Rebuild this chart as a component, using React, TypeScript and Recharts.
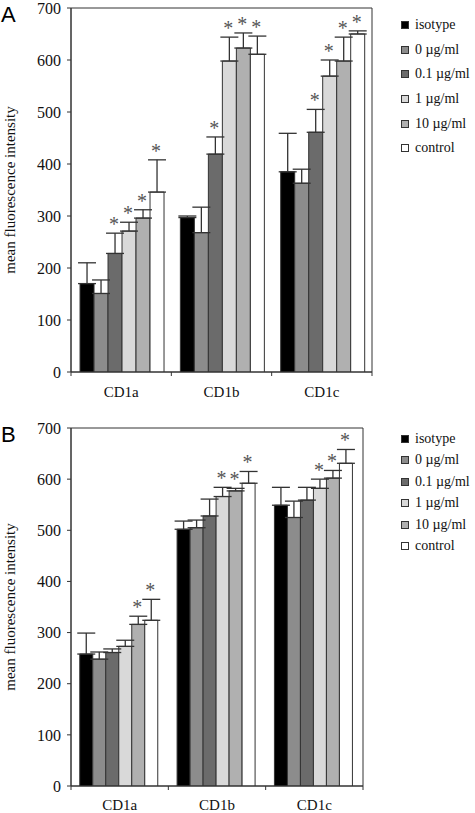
import React from 'react';
import { BarChart, Bar, XAxis, YAxis, ErrorBar, LabelList, Legend, ReferenceArea } from 'recharts';

const categories = ['CD1a', 'CD1b', 'CD1c'];
const seriesNames = ['isotype', '0 µg/ml', '0.1 µg/ml', '1 µg/ml', '10 µg/ml', 'control'];
const seriesColors = ['#000000', '#8c8c8c', '#6b6b6b', '#d9d9d9', '#b0b0b0', '#ffffff'];
const yTicks = [0, 100, 200, 300, 400, 500, 600, 700];

// panel A: means per series (CD1a, CD1b, CD1c)
const meansA = [
  [170, 297, 385],
  [151, 268, 363],
  [228, 419, 461],
  [271, 598, 569],
  [296, 623, 598],
  [346, 611, 650],
];
// upper error (SD)
const errsA = [
  [40, 3, 74],
  [26, 49, 27],
  [39, 33, 44],
  [17, 46, 31],
  [16, 29, 46],
  [62, 35, 6],
];
const starsA = [
  [false, false, false],
  [false, false, false],
  [true, true, true],
  [true, true, true],
  [true, true, true],
  [true, true, true],
];

// panel B
const meansB = [
  [258, 502, 549],
  [248, 505, 525],
  [261, 528, 559],
  [273, 566, 582],
  [316, 577, 602],
  [324, 592, 631],
];
const errsB = [
  [41, 16, 35],
  [14, 15, 32],
  [7, 33, 25],
  [12, 18, 18],
  [16, 5, 15],
  [41, 23, 27],
];
const starsB = [
  [false, false, false],
  [false, false, false],
  [false, false, false],
  [false, true, true],
  [true, true, true],
  [true, true, true],
];

const serif = '"Liberation Serif", "Times New Roman", serif';
const W = 475;
const Y_AXIS_W = 71;

const starLabel = (err: number[], stars: boolean[]) => (props: any) => {
  const vb = props.viewBox || props;
  const x = Number(vb.x ?? props.x);
  const y = Number(vb.y ?? props.y);
  const w = Number(vb.width ?? props.width);
  const h = Number(vb.height ?? props.height);
  const i = props.index;
  const v = Number(props.value);
  if (!stars[i] || !v) return null;
  const top = y - (err[i] * h) / v;
  return (
    <text x={x + w / 2 - 1} y={top - 2} textAnchor="middle" fontSize={20} fill="#555" fontFamily={serif}>
      *
    </text>
  );
};

const LegendBox = ({ gap }: { gap: number }) => (
  <div style={{ fontFamily: serif, fontSize: 14, color: '#111' }}>
    {seriesNames.map((n, i) => (
      <div key={n} style={{ height: gap, display: 'flex', alignItems: 'center', whiteSpace: 'nowrap' }}>
        <span
          style={{
            display: 'inline-block',
            width: 6,
            height: 6,
            background: seriesColors[i],
            border: '1px solid #333',
            marginRight: 6,
          }}
        />
        {n}
      </div>
    ))}
  </div>
);

type PanelProps = {
  letter: string;
  top: number;
  height: number;
  xAxisH: number;
  right: number;
  means: number[][];
  errs: number[][];
  stars: boolean[][];
  legendTop: number;
  legendGap: number;
  labelDy: number;
};

const Panel = ({ letter, top, height, xAxisH, right, means, errs, stars, legendTop, legendGap, labelDy }: PanelProps) => {
  const data = categories.map((c, ci) => {
    const row: any = { name: c };
    means.forEach((m, si) => {
      row['s' + si] = m[ci];
      row['e' + si] = [0, errs[si][ci]];
    });
    return row;
  });
  const plotW = W - Y_AXIS_W - right;
  const band = plotW / categories.length;
  const axisY = height - xAxisH;

  const XTick = (p: any) => {
    const { x, payload, index } = p;
    return (
      <g>
        {index === 0 &&
          [0, 1, 2, 3].map((k) => (
            <line
              key={k}
              x1={Y_AXIS_W + k * band}
              x2={Y_AXIS_W + k * band}
              y1={axisY}
              y2={axisY + 4}
              stroke="#333"
            />
          ))}
        <text x={x} y={axisY + labelDy} textAnchor="middle" fontSize={15} fill="#111" fontFamily={serif}>
          {payload.value}
        </text>
      </g>
    );
  };

  return (
    <div style={{ position: 'absolute', left: 0, top, width: W, height }}>
      <BarChart
        width={W}
        height={height}
        data={data}
        margin={{ top: 8, right, bottom: 0, left: 0 }}
        barCategoryGap="9%"
        barGap={0}
      >
        <ReferenceArea y1={0} y2={700} fill="none" stroke="#333" strokeWidth={1} ifOverflow="visible" />
        <XAxis
          dataKey="name"
          height={xAxisH}
          axisLine={{ stroke: '#333' }}
          tickLine={false}
          tick={<XTick />}
          interval={0}
        />
        <YAxis
          width={Y_AXIS_W}
          domain={[0, 700]}
          ticks={yTicks}
          interval={0}
          allowDataOverflow
          axisLine={{ stroke: '#333' }}
          tickLine={{ stroke: '#333' }}
          tickSize={4}
          tickMargin={6}
          tick={{ fontSize: 16, fill: '#111', fontFamily: serif }}
          label={{
            content: (lp: any) => {
              const vb = lp.viewBox || {};
              const cy = (vb.y ?? 8) + (vb.height ?? 0) / 2;
              return (
                <text
                  x={15}
                  y={cy}
                  transform={`rotate(-90 15 ${cy})`}
                  textAnchor="middle"
                  fontSize={15}
                  fill="#111"
                  fontFamily={serif}
                >
                  mean fluorescence intensity
                </text>
              );
            },
          }}
        />
        <Legend
          layout="vertical"
          verticalAlign="middle"
          align="center"
          content={() => <LegendBox gap={legendGap} />}
          wrapperStyle={{ position: 'absolute', left: 401, top: legendTop, width: 74, height: 'auto' }}
        />
        {seriesNames.map((n, si) => (
          <Bar
            key={n}
            dataKey={'s' + si}
            name={n}
            fill={seriesColors[si]}
            stroke="#333"
            strokeWidth={1}
            isAnimationActive={false}
          >
            <ErrorBar dataKey={'e' + si} width={9} stroke="#333" strokeWidth={1.3} direction="y" />
            <LabelList dataKey={'s' + si} content={starLabel(errs[si], stars[si])} />
          </Bar>
        ))}
      </BarChart>
      <div
        style={{
          position: 'absolute',
          left: 1,
          top: 2,
          zIndex: 5,
          fontFamily: '"Liberation Sans", Arial, sans-serif',
          fontSize: 22,
          lineHeight: '26px',
          color: '#000',
          pointerEvents: 'none',
        }}
      >
        {letter}
      </div>
    </div>
  );
};

export default function App() {
  return (
    <div
      style={{
        position: 'absolute',
        left: 0,
        top: 0,
        width: W,
        height: 813,
        overflow: 'hidden',
        background: '#fff',
      }}
    >
      <Panel
        letter="A"
        top={0}
        height={400}
        xAxisH={28}
        right={103}
        means={meansA}
        errs={errsA}
        stars={starsA}
        legendTop={13}
        legendGap={24.6}
        labelDy={25}
      />
      <Panel
        letter="B"
        top={420}
        height={393}
        xAxisH={27}
        right={112}
        means={meansB}
        errs={errsB}
        stars={starsB}
        legendTop={8}
        legendGap={21.5}
        labelDy={24}
      />
    </div>
  );
}
